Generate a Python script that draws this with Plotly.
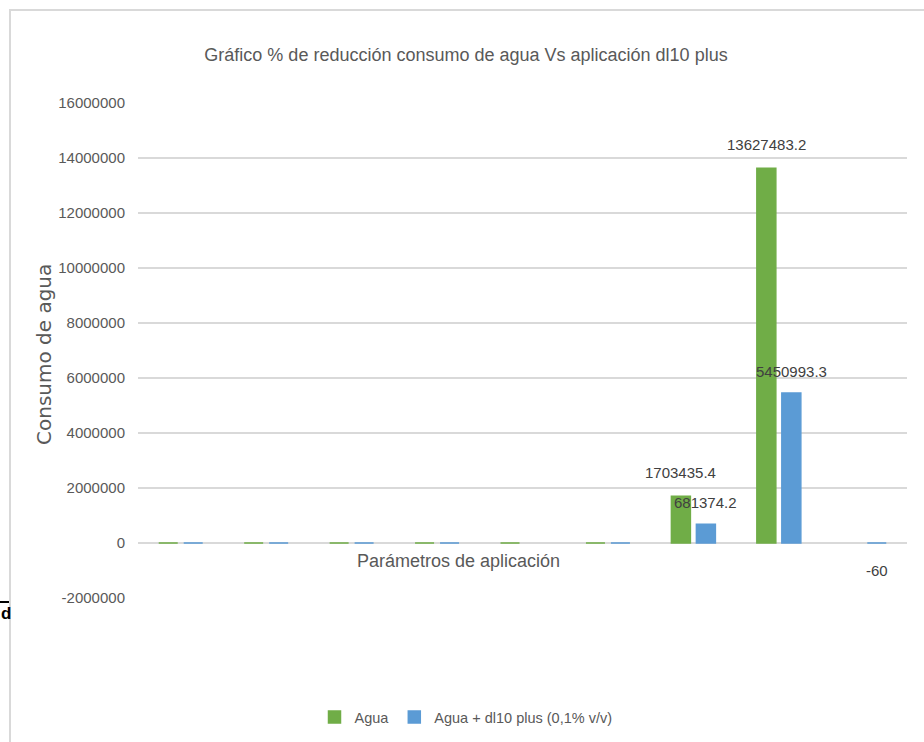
import plotly.graph_objects as go

categories = ["P1", "P2", "P3", "P4", "P5", "P6", "P7", "P8", "P9"]
agua = [45, 52, 60, 70, 80, 90, 1703435.4, 13627483.2, None]
agua_dl10 = [38, 40, 48, 55, None, 70, 681374.2, 5450993.3, -60]
y_ticks = [-2000000, 0, 2000000, 4000000, 6000000, 8000000, 10000000,
           12000000, 14000000, 16000000]
labels_agua = {6: "1703435.4", 7: "13627483.2"}
labels_dl10 = {6: "681374.2", 7: "5450993.3", 8: "-60"}

GREEN = "#70ad47"
BLUE = "#5b9bd5"
SANS = "Liberation Sans, Arial, sans-serif"
GRAY = "#595959"

W, H = 924, 742
L, R, T, B = 138, 907, 103, 598


def xp(px):
    return (px - L) / (R - L)


def yp(py):
    return (B - py) / (B - T)


fig = go.Figure()
fig.add_trace(go.Bar(x=categories, y=agua, name="Agua",
                     marker=dict(color=GREEN, line=dict(color=GREEN, width=1.5))))
fig.add_trace(go.Bar(x=categories, y=agua_dl10, name="Agua + dl10 plus (0,1% v/v)",
                     marker=dict(color=BLUE, line=dict(color=BLUE, width=1.5))))

annotations = []
for i, t in labels_agua.items():
    annotations.append(dict(x=categories[i], y=agua[i], xref="x", yref="y",
                            text=t, showarrow=False, xshift=-12.5, yshift=24,
                            font=dict(family=SANS, size=15, color="#404040")))
for i, t in labels_dl10.items():
    ys = 22 if agua_dl10[i] > 0 else -27
    annotations.append(dict(x=categories[i], y=agua_dl10[i], xref="x", yref="y",
                            text=t, showarrow=False, xshift=12.5, yshift=ys,
                            font=dict(family=SANS, size=15, color="#404040")))

annotations.append(dict(x=xp(458), y=yp(573), xref="paper", yref="paper",
                        text="Parámetros de aplicación", showarrow=False,
                        font=dict(family=SANS, size=18, color=GRAY)))
annotations.append(dict(x=xp(44), y=yp(355), xref="paper", yref="paper",
                        xanchor="center", yanchor="middle",
                        text="Consumo de agua", showarrow=False, textangle=-90,
                        font=dict(family="DejaVu Sans, sans-serif", size=20, color=GRAY)))
annotations.append(dict(x=xp(-1), y=yp(613), xref="paper", yref="paper",
                        text="<b>d</b>", showarrow=False, xanchor="left", yanchor="middle",
                        font=dict(family=SANS, size=17, color="#000000")))

shapes = [
    dict(type="line", xref="paper", yref="paper", x0=xp(9), x1=xp(924), y0=yp(10), y1=yp(10),
         line=dict(color="#d9d9d9", width=2)),
    dict(type="line", xref="paper", yref="paper", x0=xp(10), x1=xp(10), y0=yp(10), y1=yp(742),
         line=dict(color="#d9d9d9", width=2)),
    dict(type="line", xref="paper", yref="paper", x0=xp(0), x1=xp(9), y0=yp(602), y1=yp(602),
         line=dict(color="#000000", width=2)),
]

fig.update_layout(
    width=W, height=H,
    margin=dict(l=L, r=W - R, t=T, b=H - B, autoexpand=False),
    paper_bgcolor="white", plot_bgcolor="white",
    barmode="group", bargap=0.415, bargroupgap=0.24,
    title=dict(text="Gráfico % de reducción consumo de agua Vs aplicación dl10 plus",
               x=466 / W, xref="container", xanchor="center",
               y=(H - 55) / H, yref="container", yanchor="middle",
               font=dict(family=SANS, size=18, color=GRAY)),
    xaxis=dict(type="category", range=[-0.5, 8.5], showticklabels=False,
               showgrid=False, showline=False, zeroline=False, ticks=""),
    yaxis=dict(range=[-2000000, 16000000], tickvals=y_ticks,
               ticktext=[str(v) for v in y_ticks],
               showgrid=True, gridcolor="#d9d9d9", gridwidth=1.5,
               zeroline=True, zerolinecolor="#d9d9d9", zerolinewidth=1.5,
               showline=False, ticks="", ticklabelstandoff=12,
               tickfont=dict(family=SANS, size=15, color=GRAY)),
    legend=dict(orientation="h", x=xp(466), xanchor="center", y=yp(717), yanchor="middle",
                font=dict(family=SANS, size=14.5, color=GRAY), itemwidth=30),
    annotations=annotations,
    shapes=shapes,
)

fig.write_html("out.html", config={"displayModeBar": False},
               post_script="document.body.style.margin='0px';")
